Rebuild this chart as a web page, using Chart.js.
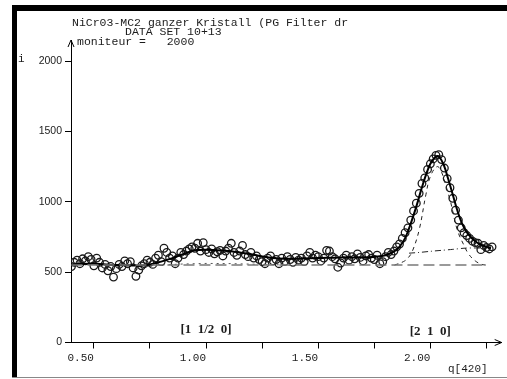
<!DOCTYPE html>
<html>
<head>
<meta charset="utf-8">
<script src="https://cdn.jsdelivr.net/npm/chart.js@4.4.1/dist/chart.umd.min.js"></script>
<style>
  html, body { margin: 0; padding: 0; background: #fff; }
  #wrap { position: relative; width: 507px; height: 379px; }
  .bar { position: absolute; background: #000; }
</style>
</head>
<body>
<div id="wrap">
  <canvas id="scan"></canvas>
  <div class="bar" style="left:12px;top:5px;width:495px;height:6px;"></div>
  <div class="bar" style="left:12px;top:5px;width:5px;height:372px;"></div>
  <div class="bar" style="left:12px;top:377px;width:495px;height:1px;background:#888;"></div>
</div>
<script>
// measured points, q in r.l.u. of [420], i = counts per moniteur 2000
const qObs = [0.4000,0.4125,0.4250,0.4375,0.4500,0.4625,0.4750,0.4875,0.5000,0.5125,
  0.5250,0.5375,0.5500,0.5625,0.5750,0.5875,0.6000,0.6125,0.6250,0.6375,
  0.6500,0.6625,0.6750,0.6875,0.7000,0.7125,0.7250,0.7375,0.7500,0.7625,
  0.7750,0.7875,0.8000,0.8125,0.8250,0.8375,0.8500,0.8625,0.8750,0.8875,
  0.9000,0.9125,0.9250,0.9375,0.9500,0.9625,0.9750,0.9875,1.0000,1.0125,
  1.0250,1.0375,1.0500,1.0625,1.0750,1.0875,1.1000,1.1125,1.1250,1.1375,
  1.1500,1.1625,1.1750,1.1875,1.2000,1.2125,1.2250,1.2375,1.2500,1.2625,
  1.2750,1.2875,1.3000,1.3125,1.3250,1.3375,1.3500,1.3625,1.3750,1.3875,
  1.4000,1.4125,1.4250,1.4375,1.4500,1.4625,1.4750,1.4875,1.5000,1.5125,
  1.5250,1.5375,1.5500,1.5625,1.5750,1.5875,1.6000,1.6125,1.6250,1.6375,
  1.6500,1.6625,1.6750,1.6875,1.7000,1.7125,1.7250,1.7375,1.7500,1.7625,
  1.7750,1.7875,1.8000,1.8125,1.8250,1.8375,1.8500,1.8625,1.8750,1.8875,
  1.9000,1.9125,1.9250,1.9375,1.9500,1.9625,1.9750,1.9875,2.0000,2.0125,
  2.0250,2.0375,2.0500,2.0625,2.0750,2.0875,2.1000,2.1125,2.1250,2.1375,
  2.1500,2.1625,2.1750,2.1875,2.2000,2.2125,2.2250,2.2375,2.2500,2.2625,2.2750];
const iObs = [540,570,585,560,595,580,610,590,545,600,
  570,530,555,510,540,465,525,555,540,580,
  560,575,530,470,515,545,560,585,570,555,
  600,620,575,670,640,600,615,560,600,640,
  625,650,665,680,670,705,650,710,660,640,
  665,630,645,655,615,650,670,705,640,620,
  650,690,625,610,640,600,615,590,575,560,
  600,615,580,590,560,600,575,610,590,570,
  605,585,600,575,615,640,600,620,610,580,
  600,655,650,610,595,535,565,600,620,585,
  610,595,630,605,580,615,625,600,590,620,
  560,575,610,640,625,650,680,700,740,780,
  815,870,935,990,1060,1130,1170,1230,1270,1305,
  1330,1335,1300,1240,1165,1100,1025,940,870,815,
  780,760,740,720,710,705,660,690,675,665,680];

// fitted curve and its parts
const qFit = [0.40,0.50,0.60,0.70,0.75,0.80,0.85,0.90,0.95,1.00,1.05,1.10,1.15,1.20,1.25,
  1.30,1.35,1.40,1.50,1.60,1.70,1.80,1.85,1.88,1.90,1.92,1.94,1.96,1.98,2.00,
  2.02,2.03,2.04,2.06,2.08,2.10,2.12,2.14,2.16,2.18,2.20,2.22,2.25,2.27];
const iFit = [555,560,550,548,555,575,600,630,655,660,655,650,640,628,612,
  600,595,595,600,605,605,620,660,720,790,880,980,1090,1190,1270,
  1315,1325,1320,1260,1160,1050,940,850,790,750,720,700,680,670];

const qBack = [0.40, 2.25];
const iBack = [550, 550];

const qHalf = [0.78,0.90,1.00,1.10,1.20,1.30,1.40];
const iHalf = [550,558,562,561,557,553,550];

const qPeak = [1.84,1.88,1.90,1.92,1.95,1.98,2.00,2.03,2.05,2.07,2.09,2.12,2.15,2.17,2.20,2.23,2.25];
const iPeak = [550,575,600,650,800,1050,1180,1250,1210,1110,1000,800,690,630,580,555,550];

const qBroad = [1.905,1.95,2.00,2.05,2.10,2.15,2.20,2.25];
const iBroad = [635,640,648,655,662,670,672,668];

const yTicks = [0, 500, 1000, 1500, 2000];
const xTicks = [0.50, 0.75, 1.00, 1.25, 1.50, 1.75, 2.00, 2.25];

const pts = (qs, is) => qs.map((q, k) => ({ x: q, y: is[k] }));

const notes = {
  id: 'notes',
  afterDraw(chart) {
    const ctx = chart.ctx;
    const x = chart.scales.x, y = chart.scales.y;
    const left = x.left, bottom = y.bottom, top = y.top, right = x.right;
    ctx.save();
    ctx.fillStyle = '#1c1c1c';
    ctx.font = '11.5px "Liberation Mono", monospace';
    ctx.fillText('NiCr03-MC2 ganzer Kristall (PG Filter dr', 72, 26);
    ctx.fillText('DATA SET 10+13', 125, 35);
    ctx.fillText('moniteur =   2000', 77, 45);
    ctx.font = '11px "Liberation Mono", monospace';
    ctx.fillText('i', 18, 62);
    ctx.fillText('q[420]', 448, 372);
    ctx.font = 'bold 13px "Liberation Serif", serif';
    ctx.textAlign = 'center';
    ctx.fillText('[1  1/2  0]', x.getPixelForValue(1.0), bottom - 10);
    ctx.fillText('[2  1  0]', x.getPixelForValue(2.0), bottom - 8);
    // axis arrow heads
    ctx.strokeStyle = '#000';
    ctx.lineWidth = 1;
    ctx.beginPath();
    ctx.moveTo(left - 3, top + 7); ctx.lineTo(left, top); ctx.lineTo(left + 3, top + 7);
    ctx.moveTo(right - 7, bottom - 3); ctx.lineTo(right, bottom); ctx.lineTo(right - 7, bottom + 3);
    ctx.stroke();
    ctx.restore();
  }
};

Chart.defaults.font.family = '"Liberation Sans", sans-serif';
Chart.defaults.color = '#222';

new Chart(document.getElementById('scan'), {
  type: 'scatter',
  data: {
    datasets: [
      {
        label: 'fond',
        data: pts(qBack, iBack),
        showLine: true,
        borderColor: '#7a7a7a',
        borderWidth: 1.5,
        borderDash: [11, 5],
        pointRadius: 0
      },
      {
        label: '[1 1/2 0]',
        data: pts(qHalf, iHalf),
        showLine: true,
        borderColor: '#555',
        borderWidth: 1,
        borderDash: [2, 4],
        pointRadius: 0
      },
      {
        label: '[2 1 0] etroit',
        data: pts(qPeak, iPeak),
        showLine: true,
        tension: 0.4,
        borderColor: '#222',
        borderWidth: 1,
        borderDash: [4, 4],
        pointRadius: 0
      },
      {
        label: '[2 1 0] large',
        data: pts(qBroad, iBroad),
        showLine: true,
        tension: 0.3,
        borderColor: '#222',
        borderWidth: 1,
        borderDash: [6, 3, 1, 3],
        pointRadius: 0
      },
      {
        label: 'fit',
        data: pts(qFit, iFit),
        showLine: true,
        tension: 0.4,
        borderColor: '#000',
        borderWidth: 2,
        pointRadius: 0
      },
      {
        label: 'mesure',
        data: pts(qObs, iObs),
        showLine: false,
        pointRadius: 3.8,
        pointBorderWidth: 1.3,
        pointBorderColor: '#1a1a1a',
        pointBackgroundColor: 'rgba(255,255,255,0)'
      }
    ]
  },
  options: {
    responsive: true,
    maintainAspectRatio: false,
    animation: false,
    layout: { padding: { top: 40, right: 2, left: 0, bottom: 0 } },
    plugins: { legend: { display: false }, tooltip: { enabled: false } },
    scales: {
      x: {
        type: 'linear',
        min: 0.398,
        max: 2.318,
        afterFit: (s) => { s.height = 36.5; },
        afterBuildTicks: (s) => { s.ticks = xTicks.map(v => ({ value: v })); },
        border: { display: true, color: '#000', width: 1 },
        grid: { drawOnChartArea: false, drawTicks: true, tickLength: 6, color: '#000' },
        ticks: {
          align: 'end',
          padding: 3,
          maxRotation: 0,
          font: { family: '"Liberation Mono", monospace', size: 11 },
          callback: (v) => (Math.abs(v * 2 - Math.round(v * 2)) < 1e-6 ? v.toFixed(2) : '')
        }
      },
      y: {
        type: 'linear',
        min: 0,
        max: 2150,
        afterFit: (s) => { s.width = 71; },
        afterBuildTicks: (s) => { s.ticks = yTicks.map(v => ({ value: v })); },
        border: { display: true, color: '#000', width: 1 },
        grid: { drawOnChartArea: false, drawTicks: true, tickLength: 6, color: '#000' },
        ticks: {
          padding: 3,
          font: { size: 10.5 },
          callback: (v) => String(v)
        }
      }
    }
  },
  plugins: [notes]
});
</script>
</body>
</html>
